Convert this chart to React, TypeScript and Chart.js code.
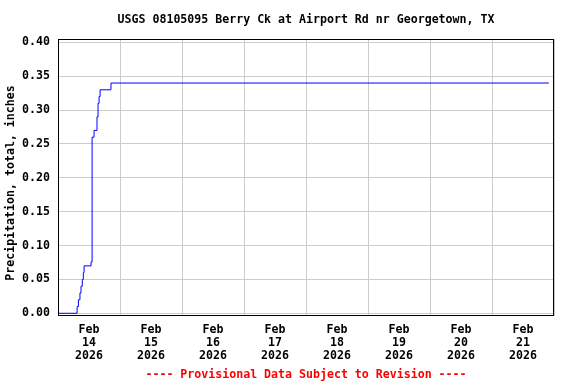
import React, { useEffect, useRef } from "react";
import { Chart, registerables } from "chart.js";

Chart.register(...registerables);

const chartTitle = "USGS 08105095 Berry Ck at Airport Rd nr Georgetown, TX";
const yAxisTitle = "Precipitation, total, inches";
const footerText = "---- Provisional Data Subject to Revision ----";

// hours since Feb 14 2026 00:00
const hoursSinceStart = [0, 7.4, 7.9, 8.5, 8.9, 9.4, 9.8, 10.1, 12.8, 13.2, 13.95, 15.1, 15.5, 15.9, 16.3, 20.5, 190];
const precipInches = [0, 0.01, 0.02, 0.03, 0.04, 0.05, 0.06, 0.07, 0.076, 0.26, 0.27, 0.29, 0.31, 0.32, 0.33, 0.34, 0.34];

const dayLabels = ["14", "15", "16", "17", "18", "19", "20", "21"];
const monthLabel = "Feb";
const yearLabel = "2026";
const yTickValues = [0, 0.05, 0.1, 0.15, 0.2, 0.25, 0.3, 0.35, 0.4];

const FONT = "bold 11.6px 'DejaVu Sans Mono', monospace";

const textPlugin = {
  id: "usgsText",
  afterDraw(chart: any) {
    const { ctx, chartArea } = chart;
    ctx.save();
    ctx.strokeStyle = "#000";
    ctx.lineWidth = 1;
    ctx.strokeRect(
      Math.round(chartArea.left) + 0.5,
      Math.round(chartArea.top) + 0.5,
      Math.round(chartArea.right - chartArea.left) - 1,
      Math.round(chartArea.bottom - chartArea.top) - 1
    );
    ctx.font = FONT;
    ctx.textAlign = "center";
    ctx.textBaseline = "middle";
    ctx.fillStyle = "#000";
    const cx = (chartArea.left + chartArea.right) / 2;
    ctx.fillText(chartTitle, cx, 20);
    ctx.fillStyle = "#ff0000";
    ctx.fillText(footerText, cx, 375);
    ctx.fillStyle = "#000";
    ctx.translate(11, 183);
    ctx.rotate(-Math.PI / 2);
    ctx.fillText(yAxisTitle, 0, 0);
    ctx.restore();
  },
};

export default function App() {
  const ref = useRef<HTMLCanvasElement | null>(null);
  useEffect(() => {
    if (!ref.current) return;
    const data = hoursSinceStart.map((h, i) => ({ x: h, y: precipInches[i] }));
    const chart = new Chart(ref.current, {
      type: "line",
      data: {
        datasets: [
          {
            data,
            borderColor: "#0000ff",
            borderWidth: 1,
            pointRadius: 0,
            stepped: true,
            fill: false,
          },
        ],
      },
      options: {
        animation: false,
        responsive: false,
        devicePixelRatio: 1,
        layout: { padding: { top: 39, right: 22, left: 0, bottom: 0 } },
        plugins: { legend: { display: false }, tooltip: { enabled: false }, title: { display: false } },
        scales: {
          x: {
            type: "linear",
            min: 0,
            max: 192,
            border: { display: false },
            afterFit: (s: any) => {
              s.height = 68;
            },
            afterBuildTicks: (s: any) => {
              const t = [];
              for (let v = 0; v <= 192; v += 12) t.push({ value: v });
              s.ticks = t;
            },
            grid: {
              drawTicks: false,
              color: (c: any) => (c.tick && c.tick.value % 24 === 0 ? "#cccccc" : "rgba(0,0,0,0)"),
              lineWidth: 1,
            },
            ticks: {
              autoSkip: false,
              maxRotation: 0,
              minRotation: 0,
              padding: 8,
              color: "#000",
              font: { family: "'DejaVu Sans Mono', monospace", size: 11.6, weight: "bold", lineHeight: 1.1 },
              callback: (v: any) => {
                const n = Number(v);
                if (n % 24 !== 12) return "";
                const idx = Math.floor(n / 24);
                return [monthLabel, dayLabels[idx], yearLabel];
              },
            },
          },
          y: {
            type: "linear",
            min: -0.004,
            max: 0.405,
            border: { display: false },
            afterFit: (s: any) => {
              s.width = 58;
            },
            afterBuildTicks: (s: any) => {
              s.ticks = yTickValues.map((v) => ({ value: v }));
            },
            grid: { drawTicks: false, color: "#cccccc", lineWidth: 1 },
            ticks: {
              padding: 8,
              color: "#000",
              font: { family: "'DejaVu Sans Mono', monospace", size: 11.6, weight: "bold" },
              callback: (v: any) => Number(v).toFixed(2),
            },
          },
        },
      },
      plugins: [textPlugin],
    });
    return () => chart.destroy();
  }, []);
  return (
    <div style={{ position: "absolute", left: 0, top: 0, width: 576, height: 384, background: "#fff" }}>
      <canvas ref={ref} width={576} height={384} style={{ display: "block" }} />
    </div>
  );
}
